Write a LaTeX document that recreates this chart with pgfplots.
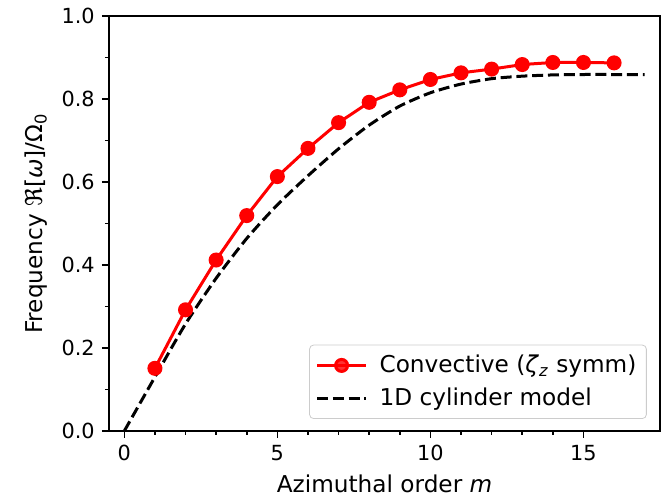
\documentclass[border=0pt]{standalone}
\usepackage{fontspec}
\setmainfont{DejaVu Sans}
\usepackage{pgfplots}
\pgfplotsset{compat=1.18}
\begin{document}
\fontsize{10.4}{12.4}\selectfont
\begin{tikzpicture}
\begin{axis}[
  at={(0,0)}, anchor=south west,
  scale only axis, width=275.5pt, height=207.5pt,
  xmin=-0.5, xmax=17.5, ymin=0, ymax=1,
  xtick={0,5,10,15}, ytick={0,0.2,0.4,0.6,0.8,1.0},
  minor x tick num=4, minor y tick num=1,
  tick align=outside, tick pos=left,
  major tick length=3.5pt, minor tick length=2pt,
  every tick/.style={black, line width=0.8pt},
  axis line style={line width=0.8pt},
  /pgf/number format/assume math mode=true,
  yticklabel style={/pgf/number format/fixed, /pgf/number format/fixed zerofill, /pgf/number format/precision=1},
  xlabel={Azimuthal order \textit{m}},
  ylabel={Frequency ℜ[\textit{ω}]/Ω\textsubscript{0}},
  label style={font=\fontsize{11.6}{13.9}\selectfont},
  xlabel style={at={(axis description cs:0.5,-0.149)}, anchor=base},
  ylabel style={at={(axis description cs:-0.12,0.5)}, anchor=base},
  legend cell align=left,
  legend style={at={(0.976,0.029)}, anchor=south east, draw=black!20, rounded corners=2pt,
    fill=white, fill opacity=0.8, text opacity=1, row sep=2pt, inner xsep=3pt, inner ysep=3pt,
    font=\fontsize{11.6}{13.9}\selectfont,
    /tikz/every odd column/.append style={column sep=4pt}},
  legend image code/.code={\draw[mark repeat=2,mark phase=2,#1] plot coordinates {(0pt,0pt) (12.25pt,0pt) (24.5pt,0pt)};},
]
\addplot[red, line width=1.5pt, mark=*, mark size=3pt, mark options={solid, fill=red, draw=red}] coordinates {
(1,0.151)(2,0.292)(3,0.412)(4,0.519)(5,0.613)(6,0.681)(7,0.743)(8,0.792)
(9,0.822)(10,0.847)(11,0.863)(12,0.872)(13,0.883)(14,0.888)(15,0.888)(16,0.887)};
\addlegendentry{Convective (\textit{ζ}\textsubscript{\textit{z}} symm)}
\addplot[black, line width=1.5pt, dash pattern=on 5.5pt off 2.4pt, smooth, tension=0.4] coordinates {
(0,0)(1,0.13)(2,0.258)(3,0.368)(4,0.464)(5,0.545)(6,0.615)(7,0.68)(8,0.737)
(9,0.783)(10,0.815)(11,0.836)(12,0.849)(13,0.855)(14,0.858)(15,0.859)(16,0.859)(17,0.859)};
\addlegendentry{1D cylinder model}
\end{axis}
\pgfresetboundingbox
\useasboundingbox (-54.5pt,-32.5pt) rectangle (276pt,215.5pt);
\end{tikzpicture}
\end{document}
